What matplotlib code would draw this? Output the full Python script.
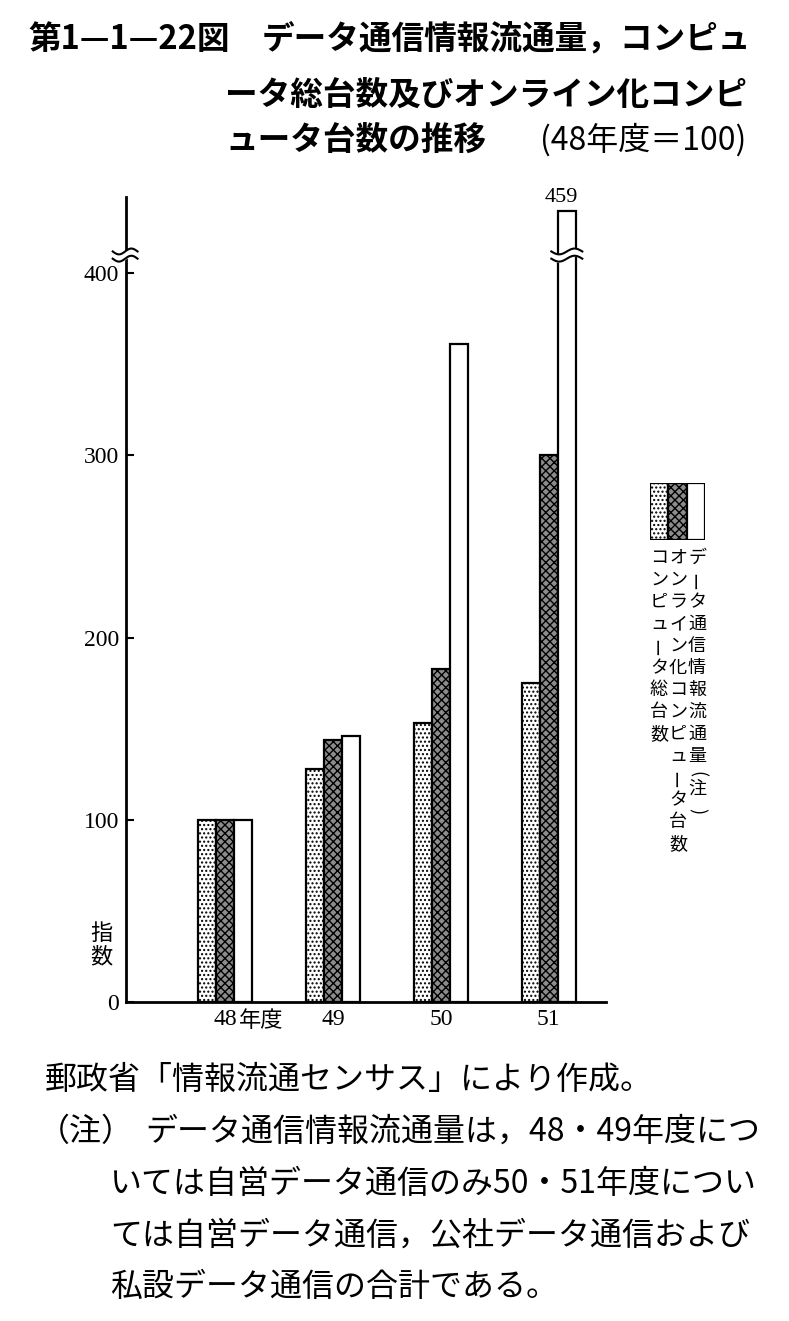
import numpy as np
import matplotlib
matplotlib.use("Agg")
import matplotlib.pyplot as plt

plt.rcParams['font.family'] = ['Noto Sans CJK JP', 'DejaVu Sans']
plt.rcParams['hatch.linewidth'] = 1.0

# 年度別の指数 (48年度=100)
years = ['48', '49', '50', '51']
traffic = [100, 128, 153, 175]   # データ通信情報流通量
online = [100, 144, 183, 300]    # オンライン化コンピュータ台数
total = [100, 146, 361, 459]     # コンピュータ総台数
yticks = [0, 100, 200, 300, 400]

legend_cols = ['コンピュータ総台数', 'オンライン化コンピュータ台数', 'データ通信情報流通量(注)']

W, H = 789, 1321
BRK = 410   # 軸の切れ目
K = 0.49    # 切れ目より上の縮尺


def fwd(y):
    y = np.asarray(y, float)
    return np.where(y <= BRK, y, BRK + (y - BRK) * K)


def inv(y):
    y = np.asarray(y, float)
    return np.where(y <= BRK, y, BRK + (y - BRK) / K)


def fx(px):
    return px / W


def fy(py):
    return 1 - py / H


fig = plt.figure(figsize=(W / 100, H / 100), dpi=100)
ax = fig.add_axes([fx(126), fy(1002), fx(606) - fx(126), fy(197) - fy(1002)])
ax.set_yscale('function', functions=(fwd, inv))

dot_kw = dict(facecolor='white', edgecolor='black', hatch='....', lw=1.6)
dark_kw = dict(facecolor='#8c8c8c', edgecolor='black', hatch='xxxx', lw=1.6)
white_kw = dict(facecolor='white', edgecolor='black', lw=1.6)

x = np.arange(len(years))
w = 0.167
ax.bar(x - w, traffic, w, **dot_kw)
ax.bar(x, online, w, **dark_kw)
ax.bar(x + w, total, w, **white_kw)

ax.set_xlim(-0.917, 3.53)
ax.set_ylim(0, 475)
for s in ['top', 'right']:
    ax.spines[s].set_visible(False)
ax.spines['left'].set_linewidth(2)
ax.spines['bottom'].set_linewidth(2)

ax.set_yticks(yticks, [str(v) for v in yticks])
ax.set_xticks(x, years)
ax.tick_params(axis='y', direction='in', length=6, width=1.5, labelsize=17, pad=5)
ax.tick_params(axis='x', length=0, labelsize=17, pad=5)
for lab in ax.get_yticklabels() + ax.get_xticklabels():
    lab.set_fontfamily('Liberation Serif')
ax.annotate('年度', xy=(0, 0), xytext=(10, -5), textcoords='offset points',
            ha='left', va='top', fontsize=16)

# 459 の値
ax.annotate(str(total[-1]), xy=(3 + w, total[-1]), xytext=(-4, 3),
            textcoords='offset points', ha='center', va='bottom',
            fontsize=16, family='Liberation Serif')


# 切れ目 (波線)
def wave(x0, x1, lo, hi, amp):
    t = np.linspace(0, 1, 60)
    xs = x0 + (x1 - x0) * t
    s = amp * np.sin(2 * np.pi * t)
    return xs, inv(fwd(lo) - s), inv(fwd(hi) - s)


for (x0, x1) in [(-1.04, -0.81), (3 + w / 2 - 0.06, 3 + 1.5 * w + 0.06)]:
    xs, ylo, yhi = wave(x0, x1, 408, 414, 1.6)
    ax.fill_between(xs, ylo, yhi, color='white', zorder=3, clip_on=False)
    ax.plot(xs, ylo, color='black', lw=1.5, zorder=4, clip_on=False)
    ax.plot(xs, yhi, color='black', lw=1.5, zorder=4, clip_on=False)

fig.text(fx(101), fy(945), '指\n数', fontsize=16, ha='center', va='center', linespacing=1.05)

# 凡例
lax = fig.add_axes([fx(650), fy(540), fx(705) - fx(650), fy(483) - fy(540)])
lax.bar([0], [1], 1, **dot_kw)
lax.bar([1], [1], 1, **dark_kw)
lax.bar([2], [1], 1, **white_kw)
lax.set_xlim(-0.5, 2.5)
lax.set_ylim(0, 1)
lax.axis('off')

for cx, label in zip([659, 678, 697], legend_cols):
    cy = 558
    for ch in label:
        rot = 0
        step = 22
        if ch == 'ー':
            rot = 90
        elif ch in '()':
            rot = -90
            step = 15
        if ch == '(':
            cy -= 4
        fig.text(fx(cx), fy(cy), ch, fontsize=13, ha='center', va='center', rotation=rot)
        cy += step

# 表題
tkw = dict(fontsize=23.5, weight='bold', va='center', ha='left')
fig.text(fx(28), fy(40), '第1—1—22図', **tkw)
fig.text(fx(262), fy(40), 'データ通信情報流通量，コンピュ', **tkw)
fig.text(fx(225), fy(95), 'ータ総台数及びオンライン化コンピ', **tkw)
fig.text(fx(225), fy(140), 'ュータ台数の推移', **tkw)
fig.text(fx(540), fy(140), '(48年度＝100)', fontsize=23, va='center', ha='left')

# 出典・注
bkw = dict(fontsize=23, va='center', ha='left')
fig.text(fx(45), fy(1080), '郵政省「情報流通センサス」により作成。', **bkw)
fig.text(fx(38), fy(1132), '（注）', **bkw)
fig.text(fx(145), fy(1132), 'データ通信情報流通量は，48・49年度につ', **bkw)
fig.text(fx(110), fy(1184), 'いては自営データ通信のみ50・51年度につい', **bkw)
fig.text(fx(110), fy(1236), 'ては自営データ通信，公社データ通信および', **bkw)
fig.text(fx(110), fy(1287), '私設データ通信の合計である。', **bkw)

fig.savefig('out.png', dpi=100)
